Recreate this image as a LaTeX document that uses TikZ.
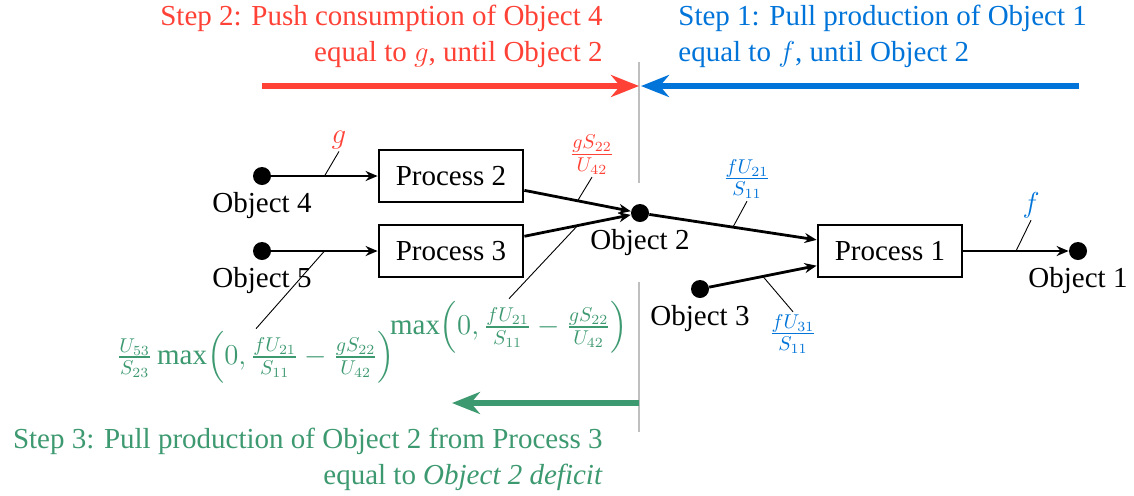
\documentclass[tikz,border=0pt]{standalone}
\usepackage{amsmath}
\usepackage{fontspec}
\setmainfont{Liberation Serif}
\usetikzlibrary{arrows.meta}
\definecolor{stepRed}{HTML}{FF4136}
\definecolor{stepBlue}{HTML}{0074D9}
\definecolor{stepGreen}{HTML}{3D9970}

\begin{document}
\begin{tikzpicture}[x = 0.5pt, y = -0.5pt, font = \fontsize{14.5}{18}\selectfont]
\tikzstyle{objectStyle} = [shape = circle, minimum size = 9pt, inner sep = 0pt, fill]
\tikzstyle{processStyle} = [shape = rectangle, minimum width = 72pt, minimum height = 26pt, draw, line width = 1.4pt]
\tikzstyle{flowStyle} = [line width = 1.4pt, -{Stealth[length = 6pt, width = 5pt]}]
\tikzstyle{pinStyle} = [line width = 0.45pt]
\tikzstyle{amountStyle} = [inner sep = 1pt]
\tikzstyle{stepStyle} = [line width = 2.6pt, -{Stealth[length = 14pt, width = 11pt]}]
\tikzstyle{stepText} = [inner sep = 0pt]
\tikzstyle{splitStyle} = [black!25, line width = 1pt]
\useasboundingbox (0, 0) rectangle (1134, 495);

\draw[splitStyle] (639, 62) -- (639, 183);
\draw[splitStyle] (639, 282) -- (639, 432);

\node[objectStyle, label = below:Object 4] (o4) at (262, 176) {};
\node[objectStyle, label = below:Object 5] (o5) at (262, 251) {};
\node[objectStyle, label = below:Object 2] (o2) at (640, 213) {};
\node[objectStyle, label = below:Object 3] (o3) at (700, 289) {};
\node[objectStyle, label = below:Object 1] (o1) at (1078, 251) {};
\node[processStyle] (p2) at (451, 176) {Process 2};
\node[processStyle] (p3) at (451, 251) {Process 3};
\node[processStyle] (p1) at (890, 251) {Process 1};

\draw[flowStyle] (o4) -- coordinate (m4) (p2);
\draw[flowStyle] (o5) -- coordinate (m5) (p3);
\draw[flowStyle] (p2) -- coordinate (m2) (o2);
\draw[flowStyle] (p3) -- coordinate (m3) (o2);
\draw[flowStyle] (o2) -- coordinate (m21) (p1);
\draw[flowStyle] (o3) -- coordinate (m31) (p1);
\draw[flowStyle] (p1) -- coordinate (m1) (o1);

% amounts along the flows
\node[amountStyle, text = stepRed] (lG) at (339, 140) {$g$};
\node[amountStyle, text = stepRed] (lGS) at (592, 155) {$\frac{gS_{22}}{U_{42}}$};
\node[amountStyle, text = stepBlue] (lFU) at (747, 179) {$\frac{fU_{21}}{S_{11}}$};
\node[amountStyle, text = stepBlue] (lF) at (1031, 205) {$f$};
\node[amountStyle, text = stepBlue] (lFU3) at (793, 334) {$\frac{fU_{31}}{S_{11}}$};
\node[amountStyle, text = stepGreen] (lMaxA) at (509, 327) {$\max\Bigl(0, \frac{fU_{21}}{S_{11}} - \frac{gS_{22}}{U_{42}}\Bigr)$};
\node[amountStyle, text = stepGreen] (lMaxB) at (256, 357) {$\frac{U_{53}}{S_{23}}\max\Bigl(0, \frac{fU_{21}}{S_{11}} - \frac{gS_{22}}{U_{42}}\Bigr)$};
\draw[pinStyle] (m4) -- (lG.south);
\draw[pinStyle] (m2) -- (lGS.south);
\draw[pinStyle] (m21) -- (lFU.south);
\draw[pinStyle] (m1) -- (lF.south);
\draw[pinStyle] (m31) -- (lFU3.north);
\draw[pinStyle] (m3) -- (lMaxA.north);
\draw[pinStyle] (m5) -- (lMaxB.north);

% steps
\coordinate (r0) at (262, 86);
\coordinate (r1) at (639, 86);
\coordinate (b0) at (1079, 86);
\coordinate (b1) at (641, 86);
\coordinate (g0) at (639, 403);
\coordinate (g1) at (452, 403);
\draw[stepStyle, stepRed] (r0) -- (r1);
\draw[stepStyle, stepBlue] (b0) -- (b1);
\draw[stepStyle, stepGreen] (g0) -- (g1);
\node[stepText, text = stepRed, align = right, anchor = east] (t2) at (603, 36) {Step 2: Push consumption of Object 4\\equal to $g$, until Object 2};
\node[stepText, text = stepBlue, align = left, anchor = west] (t1) at (678, 36) {Step 1: Pull production of Object 1\\equal to $f$, until Object 2};
\node[stepText, text = stepGreen, align = right, anchor = east] (t3) at (603, 459) {Step 3: Pull production of Object 2 from Process 3\\equal to \textit{Object 2 deficit}};
\end{tikzpicture}
\end{document}
